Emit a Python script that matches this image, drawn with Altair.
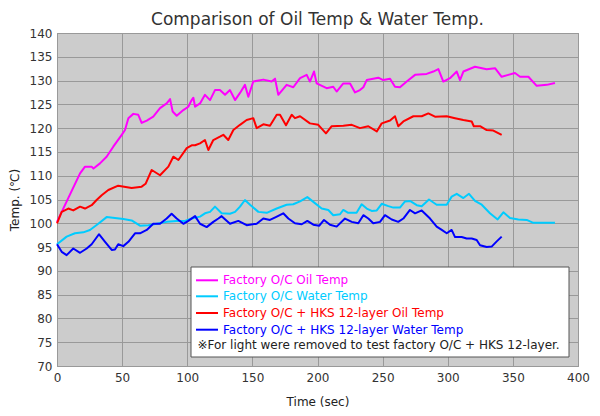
import altair as alt
import pandas as pd

# ---- data ----
oil_fac_t = [0, 9, 17.7, 21.5, 26.6, 28, 33, 38.1, 43.2, 49.7, 52.2, 54.8, 58.6, 62.4, 65, 68.9, 73.9, 79.1,
             84.2, 86.8, 88.8, 91.9, 97, 100.8, 103.4, 104.7, 106, 109.8, 113.6, 117.5, 121.3, 125.1, 129,
             132.8, 136.7, 140.5, 144.3, 146.9, 150.7, 158.4, 164.8, 167.4, 169.9, 176.3, 181.4, 186.6,
             191.7, 194.2, 197.3, 199.4, 207, 212.1, 214.7, 219.8, 225, 228.8, 232.6, 235.2, 237.8, 246.7,
             250.5, 255.7, 259.5, 263.3, 268.5, 274.9, 283.8, 288.9, 292.8, 296.6, 301.7, 306.9, 309.4,
             312, 320.9, 329.9, 336.3, 341.4, 346.5, 351.6, 355.5, 361.9, 368.3, 376, 382.3]
oil_fac_v = [100.3, 105.5, 110.5, 111.9, 111.9, 111.5, 112.6, 114, 116.1, 118.6, 119.6, 122.1, 123, 122.8,
             121.1, 121.6, 122.4, 124.2, 125.2, 126.1, 123.5, 122.6, 123.8, 124.5, 125.9, 126.4, 124.5,
             125.2, 127, 125.9, 128, 128, 127, 128, 125.9, 127.4, 129.1, 126.6, 129.8, 130.2, 129.8, 130.4,
             127, 129.1, 128.6, 130.5, 131.2, 129.8, 131.9, 129.4, 128.4, 128.7, 127.7, 129.4, 129.4, 127.5,
             128, 128.6, 130.1, 130.6, 130.1, 130.4, 128.7, 128.6, 129.8, 131.2, 131.4, 131.9, 132.4, 129.8,
             130.5, 131.9, 130.1, 131.9, 132.9, 132.4, 132.6, 130.8, 131.2, 131.6, 130.8, 130.8, 128.9,
             129.1, 129.5]

oil_hks_t = [0, 3.6, 8.7, 12.5, 17.7, 21.5, 26.6, 30.4, 34.3, 39.4, 47, 57.3, 65, 68, 72.7, 79.1, 85.5,
             89.3, 93.2, 99.6, 103.4, 106, 109.8, 113.6, 116.2, 120, 125.1, 127.7, 131.5, 135.4, 140.5,
             145.6, 150.7, 153.3, 158.4, 163.5, 168.7, 171.2, 175.8, 180.2, 182.7, 186.6, 194.2, 200.6,
             206.5, 210.9, 219.8, 226.3, 232.6, 239, 245.5, 249.3, 255.7, 259.5, 262, 265.9, 273.6, 280,
             285.1, 290.2, 299.2, 305.6, 312, 318.4, 320, 324.8, 329.9, 335, 341.4]
oil_hks_v = [100, 102.4, 103.1, 102.7, 103.5, 103.1, 103.8, 104.9, 105.9, 107, 107.9, 107.4, 107.7, 108.3,
             111.2, 110.1, 111.9, 114, 113.3, 115.8, 116.4, 116.4, 116.8, 117.5, 115.4, 117.5, 118.2,
             118.6, 117.5, 119.6, 120.7, 121.7, 122.1, 120, 120.8, 120.5, 122.8, 122.8, 120.6, 122.8,
             122.1, 122.5, 121, 120.7, 118.9, 120.4, 120.5, 120.7, 120, 120.4, 119.3, 121, 121.6, 122.5,
             120.4, 121.4, 122.5, 122.5, 123.1, 122.4, 122.5, 122.1, 121.7, 121.4, 120.4, 120.4, 119.6,
             119.5, 118.6]

wat_fac_t = [0, 7.4, 13.8, 20.2, 25.3, 31.7, 38.1, 44.5, 50.9, 57.3, 63.7, 70.1, 76.5, 84.2, 91.9, 98.3,
             103.4, 109.8, 113.6, 117.5, 121.3, 126.4, 132.8, 136.7, 140.5, 144.3, 148.2, 154.6, 161,
             168.7, 176.3, 181.4, 186.6, 192.2, 196.8, 203.2, 208.3, 212.1, 217.3, 219.8, 223.6, 230,
             233.9, 237.8, 241.6, 245.5, 249.3, 254.4, 258.2, 263.3, 267.2, 271, 276.2, 280, 285.6, 291.5,
             299.2, 303, 306.9, 312, 316.3, 320.9, 326.1, 332.4, 338.3, 342.7, 347.8, 354.2, 360.6, 365.7,
             373.4, 382.3]
wat_fac_v = [95.6, 97.2, 97.9, 98.1, 98.6, 99.9, 101.3, 101.1, 100.9, 100.6, 99.5, 99.6, 99.9, 100.3,
             100.5, 100.5, 101, 101.4, 102.1, 102.4, 103.5, 102.1, 102, 102.4, 103.5, 104.9, 103.9, 102.4,
             102.2, 103.1, 103.9, 104, 104.6, 105.5, 104.5, 103.1, 102.8, 101.7, 101.9, 102.8, 102.2,
             102.2, 104, 103.1, 102.6, 102.7, 104.1, 103.6, 103.3, 103.3, 104.6, 104.7, 103.8, 103.6, 105,
             103.9, 103.9, 105.6, 106.2, 105.3, 106.2, 104.7, 103.9, 102.1, 100.8, 102.3, 101.1, 100.8,
             100.7, 100.1, 100.1, 100.1]

wat_hks_t = [0, 3.6, 7.4, 12.5, 17.7, 22.8, 26.6, 32.2, 36.9, 42, 44.5, 47, 50.9, 54.8, 59.9, 63.7, 68.9,
             73.9, 79.1, 84.2, 88, 91.9, 97, 100.8, 106, 109.8, 114.9, 120, 123.9, 126.4, 132.8, 139.2,
             145.6, 153.3, 158.4, 163.5, 168, 173.7, 177.6, 182.7, 187.9, 192.2, 196.8, 201.4, 205, 209.6,
             214.7, 221.1, 226.3, 231.3, 235.2, 239, 242.8, 248, 251.8, 257, 262, 265.9, 271, 274.9, 280,
             286.4, 291.5, 295.4, 299.2, 303, 305.6, 310.7, 314.5, 318.4, 322.2, 324.8, 329.9, 333.7,
             337.6, 341.4]
wat_hks_v = [95.6, 94, 93.3, 94.7, 93.8, 94.7, 95.6, 97.7, 96.1, 94.4, 94.5, 95.6, 95.2, 96.1, 97.9, 97.9,
             98.6, 99.9, 99.9, 101, 102, 101, 99.9, 100.5, 101.5, 99.9, 99.2, 100.3, 101, 101.5, 99.9,
             100.5, 99.6, 99.9, 101, 100.7, 101.3, 102.1, 101, 100, 99.8, 100.5, 99.7, 99.5, 100.7, 99.7,
             99.3, 101, 100.3, 100, 101.7, 101, 100, 100.3, 101.7, 100.8, 100.3, 101, 102.8, 102.1, 102.7,
             101, 99.3, 98.6, 97.9, 98.6, 97.1, 97.1, 96.8, 96.8, 96.5, 95.4, 95, 95.1, 96.2, 97.2]

series_names = ["Factory O/C Oil Temp", "Factory O/C Water Temp",
                "Factory O/C + HKS 12-layer Oil Temp", "Factory O/C + HKS 12-layer Water Temp"]
series_colors = ["#ff00ff", "#00ccff", "#ff0000", "#0000ff"]
note_text = "※For light were removed to test factory O/C + HKS 12-layer."
title_text = "Comparison of Oil Temp & Water Temp."

x_ticks = [0, 50, 100, 150, 200, 250, 300, 350, 400]
y_ticks = [70, 75, 80, 85, 90, 95, 100, 105, 110, 115, 120, 125, 130, 135, 140]

FONT = "DejaVu Sans"
W, H = 521, 333

rows = []
for name, ts, vs in zip(series_names,
                        [oil_fac_t, wat_fac_t, oil_hks_t, wat_hks_t],
                        [oil_fac_v, wat_fac_v, oil_hks_v, wat_hks_v]):
    for i, (t, v) in enumerate(zip(ts, vs)):
        rows.append({"series": name, "time": t, "temp": v, "order": i})
df = pd.DataFrame(rows)

lines = alt.Chart(df).mark_line(strokeWidth=2, strokeJoin="round").encode(
    x=alt.X("time:Q", scale=alt.Scale(domain=[0, 400], nice=False),
            axis=alt.Axis(values=x_ticks, title="Time (sec)", grid=True, labelFlush=False)),
    y=alt.Y("temp:Q", scale=alt.Scale(domain=[70, 140], nice=False, zero=False),
            axis=alt.Axis(values=y_ticks, title="Temp. (℃)", grid=True, labelFlush=False)),
    color=alt.Color("series:N", scale=alt.Scale(domain=series_names, range=series_colors), legend=None),
    order="order:Q",
    detail="series:N",
)

one = df.head(1)

# ---- chart title (as text) ----
title_mark = alt.Chart(one).mark_text(align="center", baseline="alphabetic", font=FONT, fontSize=17,
                                      color="#333333").encode(
    x=alt.value(W / 2), y=alt.value(-8), text=alt.value(title_text))

# ---- manual legend box ----
LX0, LX1, LY0, LY1 = 134, 512, 234, 324
row_y = [247.3, 263.3, 280, 296.7]
note_y = 311.7

legend_layers = [
    alt.Chart(one).mark_rect(fill="white", stroke="#555555", strokeWidth=1).encode(
        x=alt.value(LX0), x2=alt.value(LX1), y=alt.value(LY0), y2=alt.value(LY1))
]
for name, col, yy in zip(series_names, series_colors, row_y):
    legend_layers.append(
        alt.Chart(one).mark_rule(color=col, strokeWidth=2).encode(
            x=alt.value(139), x2=alt.value(161), y=alt.value(yy), y2=alt.value(yy)))
    legend_layers.append(
        alt.Chart(one).mark_text(align="left", baseline="middle", font=FONT, fontSize=12,
                                 color=col).encode(
            x=alt.value(166), y=alt.value(yy), text=alt.value(name)))
legend_layers.append(
    alt.Chart(one).mark_text(align="left", baseline="middle", font=FONT, fontSize=12,
                             color="#222222").encode(
        x=alt.value(140.5), y=alt.value(note_y), text=alt.value(note_text)))

chart = alt.layer(lines, title_mark, *legend_layers).properties(
    width=W, height=H,
    background="white",
    autosize=alt.AutoSizeParams(type="none"),
    padding={"left": 49, "top": 25, "right": 14, "bottom": 42},
).configure_view(
    fill="#cccccc", stroke="#888888", strokeWidth=1
).configure_axis(
    labelFont=FONT, labelFontSize=12, labelColor="#333333",
    titleFont=FONT, titleFontSize=12, titleColor="#222222", titleFontWeight="normal",
    gridColor="#999999", gridWidth=1, gridOpacity=1,
    domain=False, ticks=False,
).configure_axisX(
    labelPadding=6, titlePadding=13,
).configure_axisY(
    labelPadding=5, titlePadding=8,
)

chart.save("out.html", embed_options={"renderer": "svg", "actions": False})
